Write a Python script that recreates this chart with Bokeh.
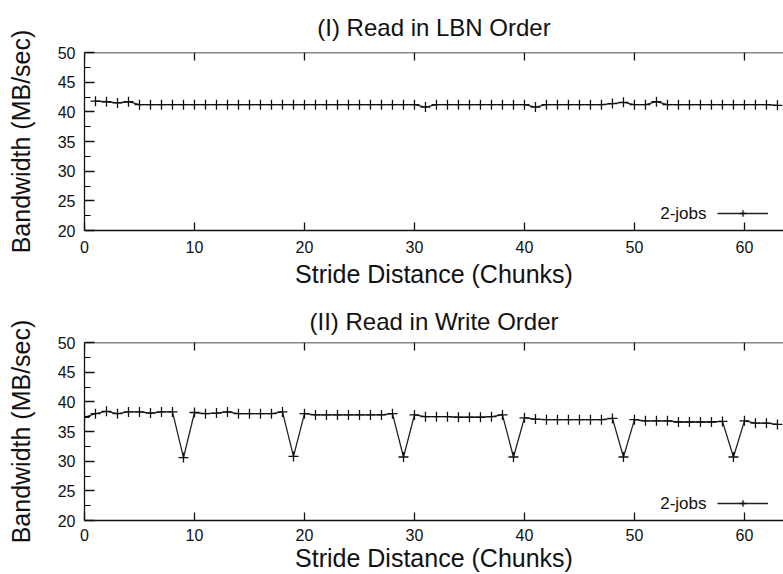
from bokeh.plotting import figure
from bokeh.layouts import column
from bokeh.models import Range1d, FixedTicker, Legend, LegendItem, Label, Span
from bokeh.embed import file_html
from bokeh.resources import INLINE

FONT = "Liberation Sans"

# (I) Read in LBN Order
stride_lbn = list(range(1, 64))
bw_lbn = [41.8, 41.7, 41.5, 41.7, 41.2, 41.2, 41.2, 41.2, 41.2, 41.2,
          41.2, 41.2, 41.2, 41.2, 41.2, 41.2, 41.2, 41.2, 41.2, 41.2,
          41.2, 41.2, 41.2, 41.2, 41.2, 41.2, 41.2, 41.2, 41.2, 41.2,
          40.8, 41.2, 41.2, 41.2, 41.2, 41.2, 41.2, 41.2, 41.2, 41.2,
          40.8, 41.2, 41.2, 41.2, 41.2, 41.2, 41.2, 41.4, 41.6, 41.2,
          41.2, 41.7, 41.2, 41.2, 41.2, 41.2, 41.2, 41.2, 41.2, 41.2,
          41.2, 41.2, 41.1]

# (II) Read in Write Order
stride_write = list(range(0, 64))
bw_write = [37.4, 38.0, 38.4, 38.0, 38.3, 38.3, 38.1, 38.3, 38.3, 30.6,
            38.2, 38.0, 38.1, 38.3, 38.0, 38.0, 38.0, 38.0, 38.3, 30.8,
            38.0, 37.8, 37.8, 37.8, 37.8, 37.8, 37.8, 37.8, 38.0, 30.7,
            37.8, 37.5, 37.5, 37.5, 37.4, 37.4, 37.4, 37.5, 37.8, 30.7,
            37.3, 37.1, 37.0, 37.0, 37.0, 37.0, 37.0, 37.0, 37.2, 30.7,
            37.0, 36.8, 36.8, 36.8, 36.6, 36.6, 36.6, 36.6, 36.7, 30.7,
            36.8, 36.4, 36.4, 36.2]

x_ticks = [0, 10, 20, 30, 40, 50, 60]
y_ticks = [20, 25, 30, 35, 40, 45, 50]
y_minor = [22.5, 27.5, 32.5, 37.5, 42.5, 47.5]
series_label = "2-jobs"
x_label = "Stride Distance (Chunks)"
y_label = "Bandwidth (MB/sec)"
X_MIN, X_MAX = 0, 63.55
Y_MIN, Y_MAX = 20, 50


def make(title, xs, ys, height, border_top, border_bottom, title_standoff,
         xlab_standoff, xaxis_standoff):
    p = figure(width=783, height=height, x_range=Range1d(X_MIN, X_MAX),
               y_range=Range1d(Y_MIN, Y_MAX),
               output_backend="svg", toolbar_location=None,
               min_border_left=84, min_border_right=0,
               min_border_top=border_top, min_border_bottom=border_bottom,
               x_axis_label=x_label, y_axis_label=y_label)
    p.title.text = title
    p.title.align = "center"
    p.title.text_font = FONT
    p.title.text_font_size = "24px"
    p.title.text_font_style = "normal"
    p.title.text_color = "#111111"
    p.title.standoff = title_standoff
    p.outline_line_color = None
    p.xgrid.visible = False
    p.ygrid.visible = False

    xa = p.xaxis[0]
    xa.ticker = FixedTicker(ticks=x_ticks, minor_ticks=[])
    ya = p.yaxis[0]
    ya.ticker = FixedTicker(ticks=y_ticks, minor_ticks=y_minor)
    for ax in (xa, ya):
        ax.axis_line_color = "#111111"
        ax.axis_line_width = 1.3
        ax.major_tick_line_width = 1.3
        ax.minor_tick_line_width = 1.1
        ax.major_tick_line_color = "#111111"
        ax.major_tick_out = 0
        ax.minor_tick_out = 0
        ax.major_label_text_font = FONT
        ax.major_label_text_font_size = "16px"
        ax.major_label_text_color = "#111111"
        ax.axis_label_text_font = FONT
        ax.axis_label_text_font_size = "25px"
        ax.axis_label_text_font_style = "normal"
        ax.axis_label_text_color = "#111111"
    xa.major_tick_in = 8
    xa.minor_tick_in = 0
    xa.major_label_standoff = xlab_standoff
    xa.axis_label_standoff = xaxis_standoff
    ya.major_tick_in = 10
    ya.minor_tick_in = 6
    ya.major_label_standoff = 9
    ya.axis_label_standoff = 20

    # top border of the frame with inward ticks
    p.add_layout(Span(location=Y_MAX, dimension="width", line_color="#111111", line_width=1.3))
    tick_len = 8 * (Y_MAX - Y_MIN) / 178.0
    p.segment(x0=x_ticks, y0=[Y_MAX] * len(x_ticks), x1=x_ticks,
              y1=[Y_MAX - tick_len] * len(x_ticks), line_color="#111111", line_width=1.3)

    r1 = p.line(xs, ys, line_color="#222222", line_width=1.3)
    r2 = p.scatter(xs, ys, marker="cross", size=10, line_color="#111111", line_width=1.3)

    legend = Legend(items=[LegendItem(label=" ", renderers=[r1, r2])], location=(633, 9),
                    glyph_width=51, glyph_height=16, label_width=0, label_height=16,
                    padding=0, margin=0, spacing=0, label_standoff=0,
                    border_line_color=None, background_fill_alpha=0,
                    label_text_font_size="16px")
    p.add_layout(legend)
    p.add_layout(Label(x=622, y=17, x_units="screen", y_units="screen", text=series_label,
                       text_align="right", text_baseline="middle", text_font=FONT,
                       text_font_size="17px", text_color="#111111"))
    return p


p1 = make("(I) Read in LBN Order", stride_lbn, bw_lbn, 292, 52, 62, 23, 10, 4)
p2 = make("(II) Read in Write Order", stride_write, bw_write, 282, 50, 54, 15, 8, 0)
layout = column(p1, p2, spacing=0)

open("out.html", "w").write(file_html(layout, INLINE))
